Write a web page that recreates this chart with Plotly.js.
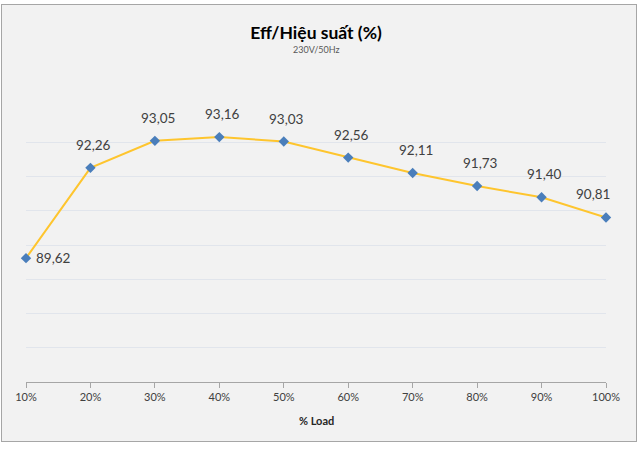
<!DOCTYPE html>
<html>
<head>
<meta charset="utf-8">
<script src="https://cdn.plot.ly/plotly-3.0.1.min.js"></script>
<style>
  html, body { margin: 0; padding: 0; background: #ffffff; }
  #chart { position: absolute; left: 1px; top: 4px; width: 634px; height: 436px; border: 1px solid #a6a6a6; background: #f2f2f2; }
</style>
</head>
<body>
<div id="chart"></div>
<script>
const loads = ["10%", "20%", "30%", "40%", "50%", "60%", "70%", "80%", "90%", "100%"];
const efficiency = [89.62, 92.26, 93.05, 93.16, 93.03, 92.56, 92.11, 91.73, 91.40, 90.81];
const chartTitle = "Eff/Hiệu suất (%)";
const chartSubtitle = "230V/50Hz";
const xTitle = "% Load";

const fmt = v => v.toFixed(2).replace(".", ",");

const labelFont = { family: "Lato, 'Open Sans', sans-serif", size: 13.5, color: "#404040" };

const annotations = efficiency.map((v, i) => {
  const a = {
    x: loads[i], y: v, xref: "x", yref: "y",
    text: fmt(v), showarrow: false, font: labelFont,
    xanchor: "center", yanchor: "middle", yshift: 23, xshift: 3
  };
  if (i === 0) { a.xanchor = "left"; a.xshift = 8; a.yshift = 0; }
  if (i === loads.length - 1) { a.xshift = -13; }
  return a;
});

annotations.push({
  text: chartSubtitle, xref: "paper", yref: "paper", x: 0.5, y: 1,
  yshift: 59, showarrow: false, xanchor: "center", yanchor: "middle",
  font: { family: "Lato, 'Open Sans', sans-serif", size: 9, color: "#595959" }
});
annotations.push({
  text: "<b>" + xTitle + "</b>", xref: "paper", yref: "paper", x: 0.5, y: 0,
  yshift: -38, showarrow: false, xanchor: "center", yanchor: "middle",
  font: { family: "Lato, 'Open Sans', sans-serif", size: 11, color: "#262626" }
});

const trace = {
  type: "scatter", mode: "lines+markers",
  x: loads, y: efficiency,
  line: { color: "#fec52e", width: 2 },
  marker: { symbol: "diamond", size: 8, color: "#4a7ebb" },
  cliponaxis: false,
  hoverinfo: "x+y"
};

const layout = {
  width: 634, height: 436,
  margin: { l: 24, r: 30, t: 103, b: 59 },
  paper_bgcolor: "#f2f2f2", plot_bgcolor: "#f2f2f2",
  showlegend: false,
  title: {
    text: "<b>" + chartTitle + "</b>",
    x: 0.5, xref: "paper", y: 1 - 28 / 436, yref: "container", yanchor: "middle",
    font: { family: "Lato, 'Open Sans', sans-serif", size: 17.5, color: "#000000" }
  },
  xaxis: {
    type: "category", range: [0, loads.length - 1],
    showgrid: false, showline: true, linecolor: "#a6a6a6", linewidth: 1,
    ticks: "outside", ticklen: 5, tickcolor: "#a6a6a6",
    tickfont: { family: "Lato, 'Open Sans', sans-serif", size: 11, color: "#404040" },
    fixedrange: true
  },
  yaxis: {
    range: [86, 94.01], tick0: 86, dtick: 1, showticklabels: false,
    showgrid: true, gridcolor: "#e1e5ec", gridwidth: 1,
    zeroline: false, showline: false, ticks: "", fixedrange: true
  },
  annotations: annotations
};

Plotly.newPlot("chart", [trace], layout, { displayModeBar: false, staticPlot: true });
</script>
</body>
</html>
